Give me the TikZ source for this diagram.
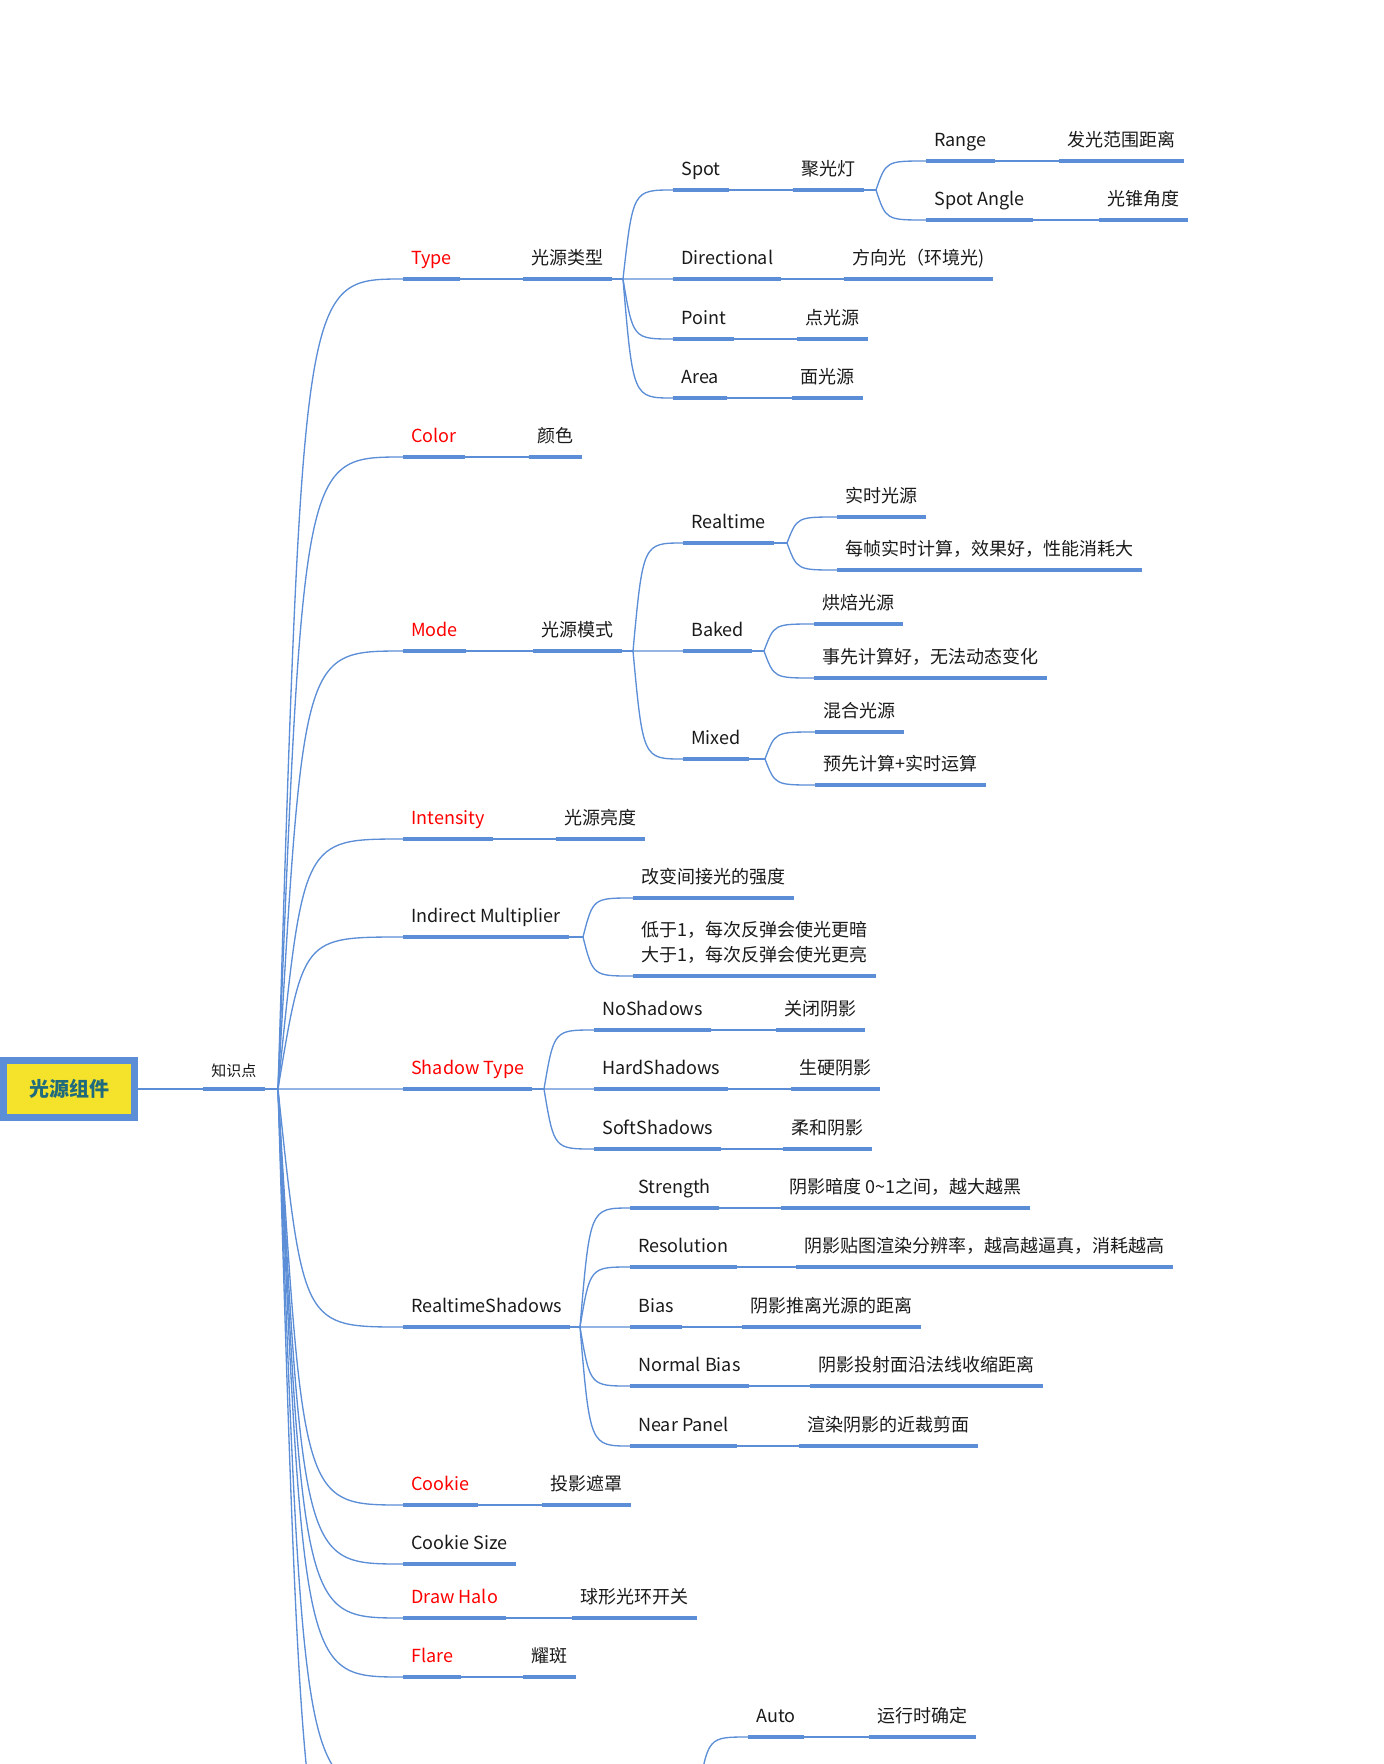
\documentclass[tikz,border=0pt]{standalone}
\usepackage{fontspec}
\setmainfont{Noto Sans CJK SC}
\usetikzlibrary{calc}
\definecolor{mapblue}{HTML}{5B8ED6}
\definecolor{hotred}{HTML}{FF0000}
\definecolor{txt}{HTML}{1A1A1A}
\definecolor{rootfill}{HTML}{F5E22B}
\definecolor{roottext}{HTML}{1F6B7D}

\tikzset{
  lbl/.style={anchor=south west, inner xsep=6pt, inner ysep=0pt,
    text height=11pt, text depth=10.5pt, text=txt,
    font=\fontsize{13.5pt}{18.75pt}\selectfont},
  hot/.style={lbl, text=hotred},
  bar/.style={draw=mapblue, line width=3pt},
  wire/.style={draw=mapblue, line width=1pt},
}

\begin{document}
\begin{tikzpicture}[x=0.75pt, y=-0.75pt]
  \useasboundingbox (0,0) rectangle (1384,1764);
  \clip (0,0) rectangle (1384,1764);

  % root and first split
  \node[draw=mapblue, line width=5.25pt, fill=rootfill, minimum width=98pt, minimum height=42.75pt,
        text=roottext, font=\fontsize{15pt}{18pt}\selectfont\bfseries] (root) at (69,1089) {光源组件};
  \node[lbl, text depth=9pt, font=\fontsize{11.25pt}{14pt}\selectfont] (know) at (203,1089) {知识点};
  \coordinate (kB) at (278,1089);

  % Type
  \node[hot] (type) at (403,279) {Type};
  \node[lbl] (typeZh) at (523,279) {光源类型};
  \node[lbl] (spot) at (673,190) {Spot};
  \node[lbl] (spotZh) at (793,190) {聚光灯};
  \node[lbl] (range) at (926,161) {Range};
  \node[lbl] (rangeZh) at (1059,161) {发光范围距离};
  \node[lbl] (angle) at (926,220) {Spot Angle};
  \node[lbl] (angleZh) at (1099,220) {光锥角度};
  \node[lbl] (dir) at (673,279) {Directional};
  \node[lbl] (dirZh) at (844,279) {方向光（环境光)};
  \node[lbl] (point) at (673,339) {Point};
  \node[lbl] (pointZh) at (797,339) {点光源};
  \node[lbl] (area) at (673,398) {Area};
  \node[lbl] (areaZh) at (792,398) {面光源};

  % Color, Mode
  \node[hot] (color) at (403,457) {Color};
  \node[lbl] (colorZh) at (529,457) {颜色};
  \node[hot] (mode) at (403,651) {Mode};
  \node[lbl] (modeZh) at (533,651) {光源模式};
  \node[lbl] (realtime) at (683,543) {Realtime};
  \node[lbl] (rtA) at (837,517) {实时光源};
  \node[lbl] (rtB) at (837,570) {每帧实时计算，效果好，性能消耗大};
  \node[lbl] (baked) at (683,651) {Baked};
  \node[lbl] (bkA) at (814,624) {烘焙光源};
  \node[lbl] (bkB) at (814,678) {事先计算好，无法动态变化};
  \node[lbl] (mixed) at (683,759) {Mixed};
  \node[lbl] (mxA) at (815,732) {混合光源};
  \node[lbl] (mxB) at (815,785) {预先计算+实时运算};

  % Intensity, Indirect Multiplier
  \node[hot] (intensity) at (403,839) {Intensity};
  \node[lbl] (intZh) at (556,839) {光源亮度};
  \node[lbl] (indirect) at (403,937) {Indirect Multiplier};
  \node[lbl] (indA) at (633,898) {改变间接光的强度};
  \node[lbl] (indB) at (633,976) {\begin{tabular}[b]{@{}l@{}}低于1，每次反弹会使光更暗\\大于1，每次反弹会使光更亮\end{tabular}};

  % Shadow Type
  \node[hot] (shType) at (403,1089) {Shadow Type};
  \node[lbl] (noSh) at (594,1030) {NoShadows};
  \node[lbl] (noShZh) at (776,1030) {关闭阴影};
  \node[lbl] (hardSh) at (594,1089) {HardShadows};
  \node[lbl] (hardShZh) at (791,1089) {生硬阴影};
  \node[lbl] (softSh) at (594,1149) {SoftShadows};
  \node[lbl] (softShZh) at (783,1149) {柔和阴影};

  % RealtimeShadows
  \node[lbl] (rtShadow) at (403,1327) {RealtimeShadows};
  \node[lbl] (strength) at (630,1208) {Strength};
  \node[lbl] (strengthZh) at (781,1208) {阴影暗度 0\textasciitilde 1之间，越大越黑};
  \node[lbl] (resol) at (630,1267) {Resolution};
  \node[lbl] (resolZh) at (796,1267) {阴影贴图渲染分辨率，越高越逼真，消耗越高};
  \node[lbl] (bias) at (630,1327) {Bias};
  \node[lbl] (biasZh) at (742,1327) {阴影推离光源的距离};
  \node[lbl] (nBias) at (630,1386) {Normal Bias};
  \node[lbl] (nBiasZh) at (810,1386) {阴影投射面沿法线收缩距离};
  \node[lbl] (nearP) at (630,1446) {Near Panel};
  \node[lbl] (nearPZh) at (799,1446) {渲染阴影的近裁剪面};

  % the rest
  \node[hot] (cookie) at (403,1505) {Cookie};
  \node[lbl] (cookieZh) at (542,1505) {投影遮罩};
  \node[lbl] (cookieSize) at (403,1564) {Cookie Size};
  \node[hot] (halo) at (403,1618) {Draw Halo};
  \node[lbl] (haloZh) at (572,1618) {球形光环开关};
  \node[hot] (flare) at (403,1677) {Flare};
  \node[lbl] (flareZh) at (523,1677) {耀斑};
  \node[lbl] (auto) at (748,1737) {Auto};
  \node[lbl] (autoZh) at (869,1737) {运行时确定};
  % branches that run on below the page
  \coordinate (moreA) at (403,1790);
  \coordinate (moreB) at (403,1920);
  \coordinate (autoB) at (698,1796);

  % split points
  \coordinate (typeB) at (623,279);
  \coordinate (spotB) at (876,190);
  \coordinate (modeB) at (633,651);
  \coordinate (rtBr) at (787,543);
  \coordinate (bkBr) at (764,651);
  \coordinate (mxBr) at (765,759);
  \coordinate (indBr) at (583,937);
  \coordinate (shBr) at (544,1089);
  \coordinate (rsBr) at (580,1327);

  % thin connectors
  \draw[wire] (root) -- (know.south west);
  \draw[wire] (know.south east) -- (kB);
  \foreach \c in {type,color,mode,intensity,indirect,shType,rtShadow,cookie,cookieSize,halo,flare}
    \draw[wire] (kB) .. controls ($(kB |- \c.south west)!0.2!(\c.south west)$) .. (\c.south west);
  \foreach \c in {moreA,moreB}
    \draw[wire] (kB) .. controls ($(kB |- \c)!0.2!(\c)$) .. (\c);
  \draw[wire] (autoB) .. controls ($(autoB |- auto.south west)!0.2!(auto.south west)$) .. (auto.south west);

  \foreach \a/\b in {type/typeZh,spot/spotZh,range/rangeZh,angle/angleZh,dir/dirZh,point/pointZh,
      area/areaZh,color/colorZh,mode/modeZh,intensity/intZh,noSh/noShZh,hardSh/hardShZh,
      softSh/softShZh,strength/strengthZh,resol/resolZh,bias/biasZh,nBias/nBiasZh,
      nearP/nearPZh,cookie/cookieZh,halo/haloZh,flare/flareZh,auto/autoZh}
    \draw[wire] (\a.south east) -- (\b.south west);

  \foreach \p/\b/\kids in {typeZh/typeB/{spot,dir,point,area}, spotZh/spotB/{range,angle},
      modeZh/modeB/{realtime,baked,mixed}, realtime/rtBr/{rtA,rtB}, baked/bkBr/{bkA,bkB},
      mixed/mxBr/{mxA,mxB}, indirect/indBr/{indA,indB}, shType/shBr/{noSh,hardSh,softSh},
      rtShadow/rsBr/{strength,resol,bias,nBias,nearP}} {
    \draw[wire] (\p.south east) -- (\b);
    \foreach \c in \kids
      \draw[wire] (\b) .. controls ($(\b |- \c.south west)!0.2!(\c.south west)$) .. (\c.south west);
  }

  % thick underlines
  \foreach \n in {know,type,typeZh,spot,spotZh,range,rangeZh,angle,angleZh,dir,dirZh,point,pointZh,
      area,areaZh,color,colorZh,mode,modeZh,realtime,rtA,rtB,baked,bkA,bkB,mixed,mxA,mxB,
      intensity,intZh,indirect,indA,indB,shType,noSh,noShZh,hardSh,hardShZh,softSh,softShZh,
      rtShadow,strength,strengthZh,resol,resolZh,bias,biasZh,nBias,nBiasZh,nearP,nearPZh,
      cookie,cookieZh,cookieSize,halo,haloZh,flare,flareZh,auto,autoZh}
    \draw[bar] (\n.south west) -- (\n.south east);
\end{tikzpicture}
\end{document}
